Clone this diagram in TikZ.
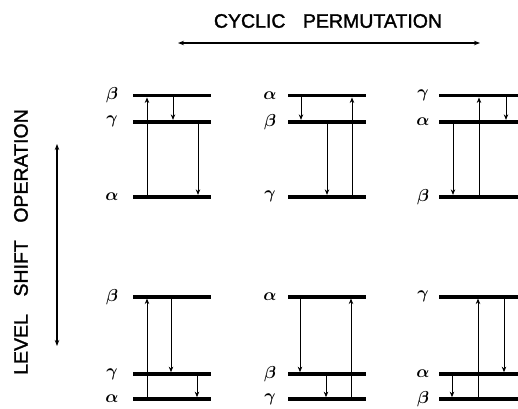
\documentclass[tikz,border=0pt]{standalone}
\usepackage{fontspec}
\setsansfont{Liberation Sans}
\newfontfamily\captfont[FakeBold=1.5]{Liberation Sans}
\usetikzlibrary{arrows.meta}
\newcommand\mklevel[6]{%
  \coordinate (#1-l) at (#2,#4);
  \coordinate (#1-r) at (#3,#4);
  \draw[levelline] (#1-l) -- (#1-r);
  \node[lab] (#1-t) at (#6,#4) {#5};}
\newcommand\mktrans[4]{%
  \coordinate (#1-s) at (#2,#3);
  \coordinate (#1-e) at (#2,#4);
  \draw[trans] (#1-s) -- (#1-e);}
\begin{document}
\begin{tikzpicture}[x=1pt,y=-1pt,
  levelline/.style={line width=3.7pt},
  trans/.style={line width=0.8pt,-{Stealth[length=5.5pt,width=4.5pt]},shorten >=1.85pt,shorten <=1.85pt},
  lab/.style={font=\fontsize{17}{17}\selectfont\boldmath,inner sep=0pt},
  capt/.style={font=\captfont\fontsize{19.5}{19.5}\selectfont,inner sep=0pt},
  oparrow/.style={line width=1.1pt,{Stealth[length=6pt,width=4.5pt]}-{Stealth[length=6pt,width=4.5pt]}}]
\useasboundingbox (0,0) rectangle (518,408);
% captions
\node[capt] (cp) at (328,21) {CYCLIC\hspace{0.9em}PERMUTATION};
\coordinate (cpL) at (178,43);
\coordinate (cpR) at (480,43);
\draw[oparrow] (cpL) -- (cpR);
\node[capt,rotate=90] (ls) at (21,242) {LEVEL\hspace{0.9em}SHIFT\hspace{0.9em}OPERATION};
\coordinate (lsT) at (57,144);
\coordinate (lsB) at (57,346);
\draw[oparrow] (lsT) -- (lsB);
% panel 1
\mklevel{p1b}{133}{211}{95.6}{$\beta$}{112}
\mklevel{p1g}{133}{211}{121.7}{$\gamma$}{112}
\mklevel{p1a}{133}{211}{196.7}{$\alpha$}{112}
\mktrans{p1u}{147}{196.7}{95.6}
\mktrans{p1d}{173}{95.6}{121.7}
\mktrans{p1e}{198}{121.7}{196.7}
% panel 2
\mklevel{p2a}{288}{366}{95.6}{$\alpha$}{270}
\mklevel{p2b}{288}{366}{121.7}{$\beta$}{270}
\mklevel{p2g}{288}{366}{196.7}{$\gamma$}{270}
\mktrans{p2d}{301}{95.6}{121.7}
\mktrans{p2e}{327}{121.7}{196.7}
\mktrans{p2u}{352}{196.7}{95.6}
% panel 3
\mklevel{p3g}{439}{518}{95.6}{$\gamma$}{423}
\mklevel{p3a}{439}{518}{121.7}{$\alpha$}{423}
\mklevel{p3b}{439}{518}{196.7}{$\beta$}{423}
\mktrans{p3d}{453}{121.7}{196.7}
\mktrans{p3u}{479}{196.7}{95.6}
\mktrans{p3e}{506}{95.6}{121.7}
% panel 4
\mklevel{p4b}{133}{211}{296.7}{$\beta$}{112}
\mklevel{p4g}{133}{211}{374}{$\gamma$}{112}
\mklevel{p4a}{133}{211}{399}{$\alpha$}{112}
\mktrans{p4u}{147}{399}{296.7}
\mktrans{p4d}{171}{296.7}{374}
\mktrans{p4e}{197}{374}{399}
% panel 5
\mklevel{p5a}{288}{366}{296.7}{$\alpha$}{270}
\mklevel{p5b}{288}{366}{374}{$\beta$}{270}
\mklevel{p5g}{288}{366}{399}{$\gamma$}{270}
\mktrans{p5d}{300}{296.7}{374}
\mktrans{p5e}{326}{374}{399}
\mktrans{p5u}{351}{399}{296.7}
% panel 6
\mklevel{p6g}{439}{518}{296.7}{$\gamma$}{423}
\mklevel{p6a}{439}{518}{374}{$\alpha$}{423}
\mklevel{p6b}{439}{518}{399}{$\beta$}{423}
\mktrans{p6d}{452}{374}{399}
\mktrans{p6u}{478}{399}{296.7}
\mktrans{p6e}{504}{296.7}{374}
\end{tikzpicture}
\end{document}
